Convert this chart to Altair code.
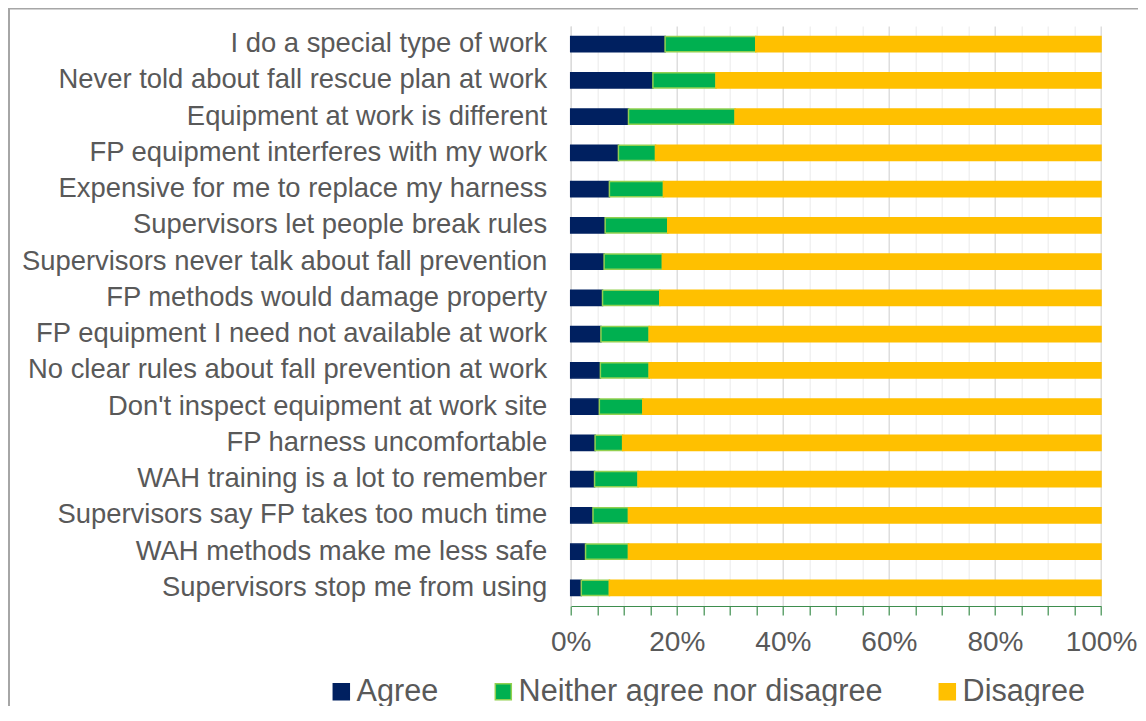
import altair as alt
import pandas as pd

categories = [
    "I do a special type of work",
    "Never told about fall rescue plan at work",
    "Equipment at work is different",
    "FP equipment interferes with my work",
    "Expensive for me to replace my harness",
    "Supervisors let people break rules",
    "Supervisors never talk about fall prevention",
    "FP methods would damage property",
    "FP equipment I need not available at work",
    "No clear rules about fall prevention at work",
    "Don't inspect equipment at work site",
    "FP harness uncomfortable",
    "WAH training is a lot to remember",
    "Supervisors say FP takes too much time",
    "WAH methods make me less safe",
    "Supervisors stop me from using",
]
agree = [17.8, 15.5, 10.9, 9.0, 7.3, 6.5, 6.3, 6.0, 5.7, 5.6, 5.4, 4.6, 4.5, 4.2, 2.8, 2.0]
neither = [17.1, 11.9, 20.1, 7.0, 10.2, 11.8, 11.0, 10.8, 9.1, 9.2, 8.2, 5.2, 8.2, 6.7, 8.1, 5.3]
disagree = [65.1, 72.6, 69.0, 84.0, 82.5, 81.7, 82.7, 83.2, 85.2, 85.2, 86.4, 90.2, 87.3, 89.1, 89.1, 92.7]

responses = ["Agree", "Neither agree nor disagree", "Disagree"]
fill_colors = ["#002060", "#00B050", "#FFC000"]
stroke_colors = ["#002060", "#92D050", "#FFC000"]
tick_values = [round(i * 0.05, 2) for i in range(21)]

rows = []
for i, c in enumerate(categories):
    for j, (r, vals) in enumerate(zip(responses, [agree, neither, disagree])):
        rows.append({"Item": c, "Response": r, "Value": vals[i], "Order": j})
df = pd.DataFrame(rows)

FONT = "Liberation Sans"
GRAY = "#595959"

legend_kw = dict(
    title=None, orient="none", direction="horizontal",
    legendX=-244.7, legendY=650.5,
    labelFont=FONT, labelFontSize=30.6, labelColor=GRAY, labelOffset=0,
    labelLimit=600,
    symbolType="square", symbolSize=256, symbolStrokeWidth=1.5,
    columnPadding=49, padding=0,
)

bars = alt.Chart(df).mark_bar(strokeWidth=1.5).encode(
    y=alt.Y(
        "Item:N",
        sort=categories,
        title=None,
        scale=alt.Scale(paddingInner=0.586, paddingOuter=0.293),
        axis=alt.Axis(
            labelFont=FONT, labelFontSize=27.4, labelColor=GRAY, labelPadding=24,
            ticks=False, domainColor="#D9D9D9", domainWidth=1, labelLimit=700,
        ),
    ),
    x=alt.X(
        "Value:Q",
        stack="normalize",
        title=None,
        scale=alt.Scale(domain=[0, 1], nice=False),
        axis=alt.Axis(
            values=tick_values,
            labelExpr="round(datum.value*100) % 20 == 0 ? format(datum.value, '.0%') : ''",
            labelFont=FONT, labelFontSize=28, labelColor=GRAY, labelPadding=13,
            labelFlush=False,
            tickColor="#3E8E4E", tickSize=9, tickWidth=1.2,
            domainColor="#3E8E4E", domainWidth=1.2,
            grid=True,
            gridColor={"condition": {"test": "round(datum.value*100) % 20 == 0", "value": "#D9D9D9"}, "value": "#EFEFEF"},
            gridWidth=1.3,
            labelOverlap=False,
        ),
    ),
    color=alt.Color(
        "Response:N",
        scale=alt.Scale(domain=responses, range=fill_colors),
        legend=alt.Legend(**legend_kw),
    ),
    stroke=alt.Stroke(
        "Response:N",
        scale=alt.Scale(domain=responses, range=stroke_colors),
        legend=alt.Legend(**legend_kw),
    ),
    order=alt.Order("Order:Q"),
)

border = alt.Chart(pd.DataFrame({"a": [0]})).mark_rect(
    fill="transparent", stroke="#A6A6A6", strokeWidth=2
).encode(
    x=alt.value(-561.7), x2=alt.value(700), y=alt.value(-17.5), y2=alt.value(800)
)

chart = alt.layer(border, bars).properties(
    width=530.3,
    height=580,
    padding={"left": 562.7, "top": 18, "right": 37, "bottom": 100},
    autosize=alt.AutoSizeParams(type="none"),
).configure_view(strokeOpacity=0)

chart.save("out.html", embed_options={"renderer": "svg", "actions": False})
